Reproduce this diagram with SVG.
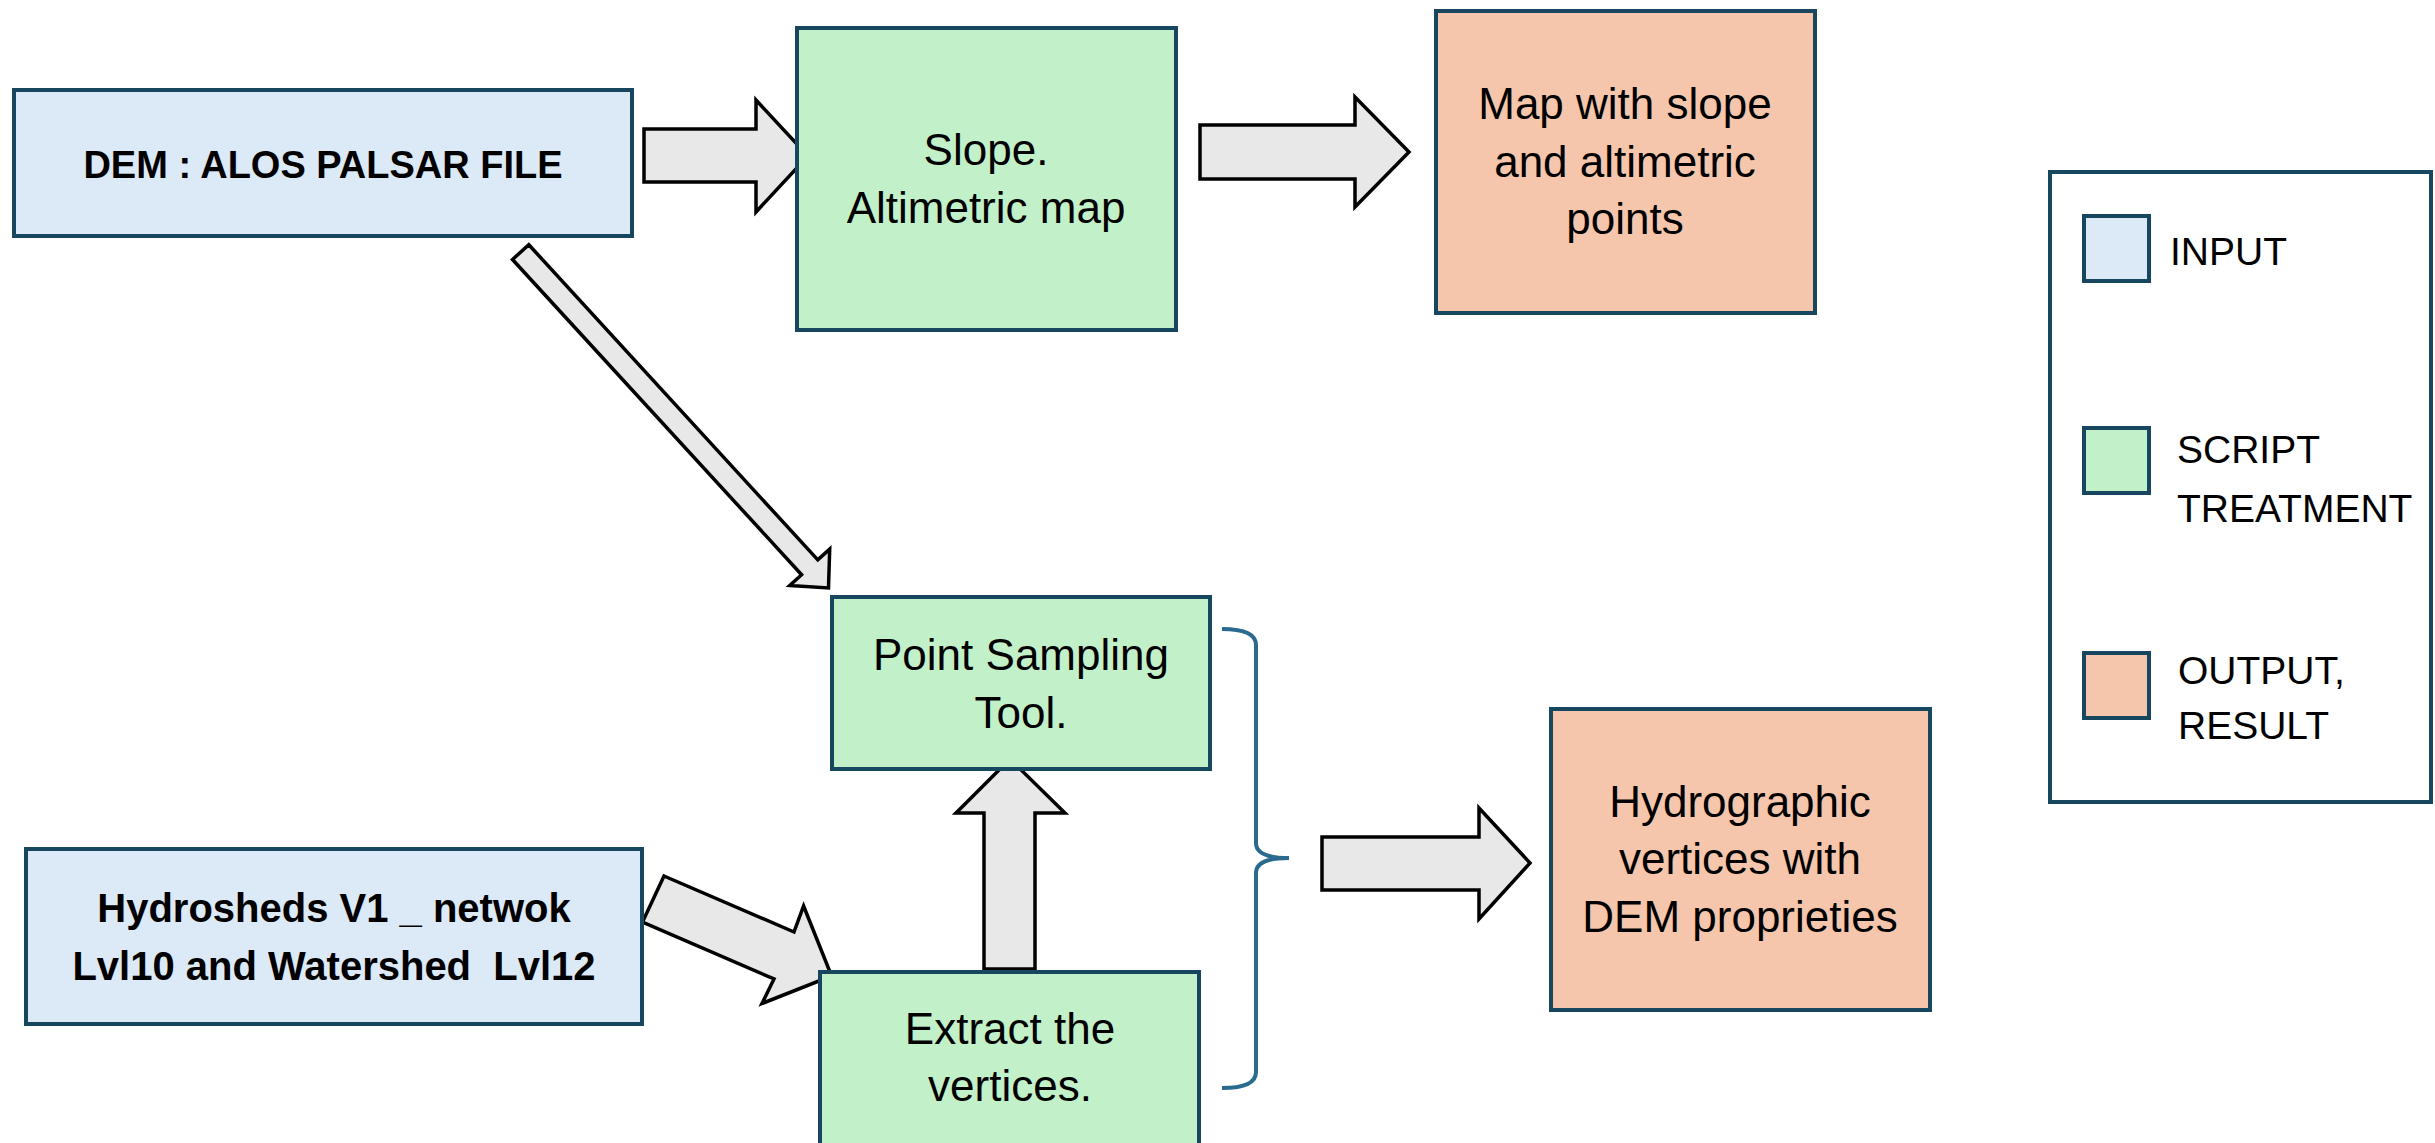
<svg xmlns="http://www.w3.org/2000/svg" width="2435" height="1143" viewBox="0 0 2435 1143">
<style>
.box{stroke:#17475f;stroke-width:4}
.in{fill:#dce9f6}
.sc{fill:#c2f0c8}
.out{fill:#f5c6ab}
.arr{fill:#e8e8e8;stroke:#000;stroke-width:3.5;stroke-linejoin:miter}
.t{font-family:"Liberation Sans",Arial,sans-serif;font-size:44px;fill:#000;text-anchor:middle}
.b{font-family:"Liberation Sans",Arial,sans-serif;font-weight:bold;fill:#000;text-anchor:middle;white-space:pre}
.lg{font-family:"Liberation Sans",Arial,sans-serif;font-size:39px;fill:#000}
</style>
<rect width="2435" height="1143" fill="#fff"/>
<g id="connectors">
<polygon class="arr" points="644,129 756,129 756,100 808,156 756,212 756,182 644,182"/>
<polygon class="arr" points="1200,125 1355,125 1355,97 1409,152 1355,207 1355,179 1200,179"/>
<polygon class="arr" points="528.8,244.7 817.8,559.9 829.7,549.1 828.5,588 789.7,585.5 801.6,574.7 512.5,259.5"/>
<polygon class="arr" points="664,876 794,932 803.6,906 831.6,976 762,1003.5 774,979 642.5,922"/>
<polygon class="arr" points="984,969 984,813 956,813 1010,759 1065,813 1035,813 1035,969"/>
<path d="M1222,629 Q1256,629 1256,645 L1256,843 Q1256,858 1289,858 Q1256,858 1256,873 L1256,1072 Q1256,1088 1222,1088" fill="none" stroke="#2a6a8e" stroke-width="4"/>
<polygon class="arr" points="1322,837 1479,837 1479,808 1530,863 1479,919 1479,890 1322,890"/>
</g>
<g id="dem">
<rect class="box in" x="14" y="90" width="618" height="146"/>
<text class="b" x="323" y="178" font-size="38">DEM : ALOS PALSAR FILE</text>
</g>
<g id="slope">
<rect class="box sc" x="797" y="28" width="379" height="302"/>
<text class="t" x="986" y="165">Slope.</text>
<text class="t" x="986" y="223">Altimetric map</text>
</g>
<g id="map">
<rect class="box out" x="1436" y="11" width="379" height="302"/>
<text class="t" x="1625" y="119">Map with slope</text>
<text class="t" x="1625" y="177">and altimetric</text>
<text class="t" x="1625" y="234">points</text>
</g>
<g id="pointsampling">
<rect class="box sc" x="832" y="597" width="378" height="172"/>
<text class="t" x="1021" y="670">Point Sampling</text>
<text class="t" x="1021" y="728">Tool.</text>
</g>
<g id="extract">
<rect class="box sc" x="820" y="972" width="379" height="200"/>
<text class="t" x="1010" y="1044">Extract the</text>
<text class="t" x="1010" y="1101">vertices.</text>
</g>
<g id="hydrosheds">
<rect class="box in" x="26" y="849" width="616" height="175"/>
<text class="b" x="334" y="922" font-size="40">Hydrosheds V1 _ netwok</text>
<text class="b" x="334" y="980" font-size="40">Lvl10 and Watershed  Lvl12</text>
</g>
<g id="hydrographic">
<rect class="box out" x="1551" y="709" width="379" height="301"/>
<text class="t" x="1740" y="817">Hydrographic</text>
<text class="t" x="1740" y="874">vertices with</text>
<text class="t" x="1740" y="932">DEM proprieties</text>
</g>
<g id="legend">
<rect class="box" fill="#fff" x="2050" y="172" width="381" height="630"/>
<rect class="box in" x="2084" y="216" width="65" height="65"/>
<text class="lg" x="2170" y="265">INPUT</text>
<rect class="box sc" x="2084" y="428" width="65" height="65"/>
<text class="lg" x="2177" y="463">SCRIPT</text>
<text class="lg" x="2177" y="522">TREATMENT</text>
<rect class="box out" x="2084" y="653" width="65" height="65"/>
<text class="lg" x="2178" y="684">OUTPUT,</text>
<text class="lg" x="2178" y="739">RESULT</text>
</g>
</svg>
